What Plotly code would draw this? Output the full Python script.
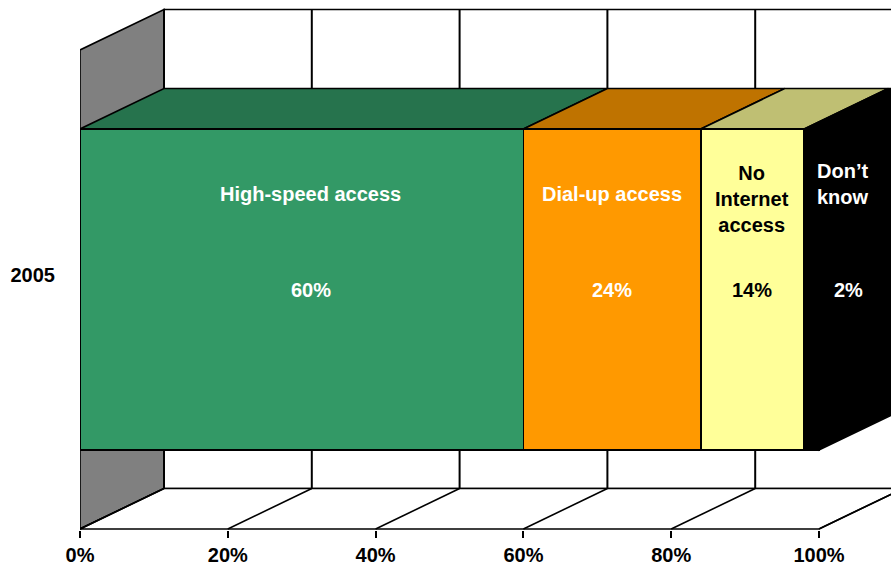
import plotly.graph_objects as go

# ---- data ----
categories = ["2005"]
segment_names = ["High-speed access", "Dial-up access", "No<br>Internet<br>access", "Don’t<br>know"]
segment_values = [60, 24, 14, 2]
tick_values = [0, 20, 40, 60, 80, 100]
tick_labels = ["0%", "20%", "40%", "60%", "80%", "100%"]

# ---- style ----
front_colors = ["#339966", "#FF9900", "#FFFF99", "#000000"]
top_colors = ["#26734D", "#BF7300", "#BFBF73", "#000000"]
text_colors = ["white", "white", "black", "white"]
label_xshift = [9, 0, 0, 31]
value_xshift = [9, 0, 0, 37]
FONT = "Liberation Sans Narrow, Arial Narrow, Liberation Sans, Arial, sans-serif"
FONT_SIZE = 20

W, H = 891, 569
ML, MB = 80, 39
PLOT_H = H - MB
PX_PER_PCT = 7.39            # horizontal pixels per percent
PX_PER_Y = 401.25            # vertical pixels per y unit
Y_CENTER_PX = 289.5          # pixel row of the bar centre
BAR_W = 0.8


def y_of_px(p):
    return (Y_CENTER_PX - p) / PX_PER_Y


X_MAX = (W - ML) / PX_PER_PCT
DX = 84 / PX_PER_PCT         # depth offset, x
DY = 40.5 / PX_PER_Y         # depth offset, y
WALL = -y_of_px(529)         # half height of the walls
HB = BAR_W / 2

shapes = []


def poly(pts, fill, width=1.6, color="black"):
    path = "M " + " L ".join(f"{x},{y}" for x, y in pts) + " Z"
    shapes.append(dict(type="path", xref="x", yref="y", path=path, fillcolor=fill,
                       line=dict(color=color, width=width), layer="below"))


def seg(x0, y0, x1, y1, width=1.6):
    shapes.append(dict(type="line", xref="x", yref="y", x0=x0, y0=y0, x1=x1, y1=y1,
                       line=dict(color="black", width=width), layer="below"))


x_lo, x_hi = tick_values[0], tick_values[-1]

# back wall
poly([(x_lo + DX, -WALL + DY), (x_hi + DX, -WALL + DY), (x_hi + DX, WALL + DY), (x_lo + DX, WALL + DY)], "white")
# left wall
poly([(x_lo, -WALL), (x_lo, WALL), (x_lo + DX, WALL + DY), (x_lo + DX, -WALL + DY)], "#808080")
# floor
poly([(x_lo, -WALL), (x_hi, -WALL), (x_hi + DX, -WALL + DY), (x_lo + DX, -WALL + DY)], "white")
# gridlines on floor and back wall
for t in tick_values:
    seg(t, -WALL, t + DX, -WALL + DY)
    seg(t + DX, -WALL + DY, t + DX, WALL + DY, width=2)

# bar depth faces (top of each segment, right side of the stack)
start = 0
for v, c in zip(segment_values, top_colors):
    end = start + v
    poly([(start, HB), (end, HB), (end + DX, HB + DY), (start + DX, HB + DY)], c)
    start = end
poly([(start, -HB), (start, HB), (start + DX, HB + DY), (start + DX, -HB + DY)], front_colors[-1])

fig = go.Figure()
for name, v, c in zip(segment_names, segment_values, front_colors):
    fig.add_trace(go.Bar(
        y=[0], x=[v], orientation="h", width=BAR_W, name=name.replace("<br>", " "),
        marker=dict(color=c, line=dict(color="black", width=1.6)),
        hoverinfo="skip", showlegend=False,
    ))

annotations = []
start = 0
for name, v, tc, lx, vx in zip(segment_names, segment_values, text_colors, label_xshift, value_xshift):
    mid = start + v / 2
    n_lines = name.count("<br>") + 1
    name_px = 194 if n_lines == 1 else 170 + (n_lines - 1) * 14.25
    annotations.append(dict(x=mid, y=y_of_px(name_px), xref="x", yref="y", text=name,
                            showarrow=False, xshift=lx,
                            font=dict(family=FONT, size=FONT_SIZE, color=tc, weight="bold")))
    annotations.append(dict(x=mid, y=0, xref="x", yref="y", text=f"{v}%",
                            showarrow=False, xshift=vx,
                            font=dict(family=FONT, size=FONT_SIZE, color=tc, weight="bold")))
    start += v

fig.update_layout(
    barmode="stack",
    width=W, height=H,
    margin=dict(l=ML, r=0, t=0, b=MB),
    paper_bgcolor="white", plot_bgcolor="white",
    shapes=shapes, annotations=annotations,
    xaxis=dict(range=[0, X_MAX], tickvals=tick_values, ticktext=tick_labels,
               ticks="outside", ticklen=7, tickwidth=2, tickcolor="black",
               showgrid=False, zeroline=False, showline=False, fixedrange=True,
               tickfont=dict(family=FONT, size=FONT_SIZE, color="black", weight="bold")),
    yaxis=dict(range=[y_of_px(PLOT_H), y_of_px(0)], tickvals=[y_of_px(275)], ticktext=categories,
               ticks="outside", ticklen=20, tickcolor="rgba(0,0,0,0)",
               showgrid=False, zeroline=False, showline=False, fixedrange=True,
               tickfont=dict(family=FONT, size=FONT_SIZE, color="black", weight="bold")),
)

fig.write_html("out.html")
